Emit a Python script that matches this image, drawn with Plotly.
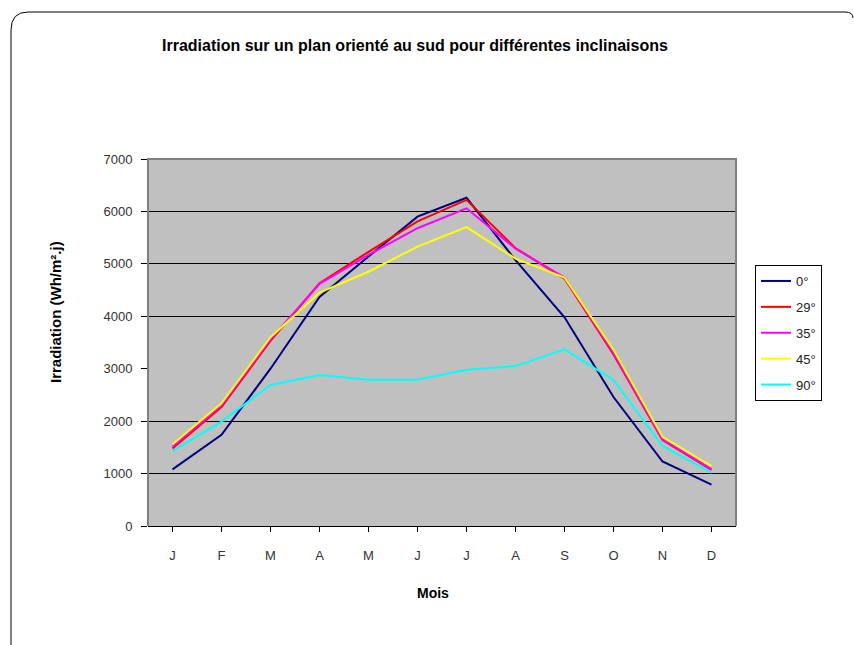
import plotly.graph_objects as go

# Monthly mean daily irradiation (Wh/m².j) on a south-facing plane
months = ["J", "F", "M", "A", "M", "J", "J", "A", "S", "O", "N", "D"]
tilt_names = ["0°", "29°", "35°", "45°", "90°"]
irr_0 = [1080, 1740, 3000, 4370, 5140, 5900, 6260, 5070, 3980, 2460, 1230, 790]
irr_29 = [1480, 2270, 3530, 4630, 5230, 5810, 6220, 5300, 4720, 3270, 1640, 1070]
irr_35 = [1510, 2300, 3560, 4620, 5170, 5680, 6060, 5290, 4740, 3300, 1655, 1085]
irr_45 = [1560, 2340, 3600, 4450, 4850, 5330, 5700, 5100, 4740, 3360, 1700, 1140]
irr_90 = [1430, 1990, 2690, 2880, 2790, 2790, 2980, 3050, 3370, 2785, 1526, 1017]
y_ticks = [0, 1000, 2000, 3000, 4000, 5000, 6000, 7000]
grid_vals = [1000, 2000, 4000, 5000, 6000]

series = [irr_0, irr_29, irr_35, irr_45, irr_90]
colors = ["#000080", "#FF0000", "#FF00FF", "#FFFF00", "#00FFFF"]

W, H = 854, 645
L, R, T, B = 148, 736, 159, 526  # plot area in pixels


def px(x):
    return (x - L) / (R - L)


def py(y):
    return (B - y) / (B - T)


FONT = "Arial, Liberation Sans, sans-serif"
x_idx = list(range(len(months)))

fig = go.Figure()
for name, vals, col in zip(tilt_names, series, colors):
    fig.add_trace(go.Scatter(
        x=x_idx, y=vals, name=name, mode="lines",
        line=dict(color=col, width=2),
        legendgroup=name,
    ))

# invisible trace carrying the partial grid axis
fig.add_trace(go.Scatter(x=[0], y=[0], yaxis="y2", mode="lines",
                         line=dict(width=0), showlegend=False, hoverinfo="skip"))

fig.update_layout(
    width=W, height=H,
    margin=dict(l=L, r=W - R, t=T, b=H - B, pad=0),
    paper_bgcolor="white",
    plot_bgcolor="#C0C0C0",
    font=dict(family=FONT, size=12, color="#222222"),
    showlegend=True,
    legend=dict(
        x=px(755), y=py(265), xanchor="left", yanchor="top",
        bgcolor="white", bordercolor="#000000", borderwidth=1,
        font=dict(family=FONT, size=13, color="#222222"),
        traceorder="grouped", tracegroupgap=6,
    ),
    xaxis=dict(
        range=[-0.5, 11.5], tickmode="array", tickvals=x_idx, ticktext=months,
        tickson="boundaries", ticks="outside", ticklen=5, tickcolor="#000000",
        showgrid=False, zeroline=False, showline=True, linecolor="#000000",
        linewidth=1, tickfont=dict(size=13, color="#333333"),
        ticklabelstandoff=12,
    ),
    yaxis=dict(
        range=[0, 7000], tickmode="array", tickvals=y_ticks,
        ticks="outside", ticklen=6, tickcolor="#000000",
        showgrid=False, zeroline=False, showline=False,
        tickfont=dict(size=13, color="#333333"),
        ticklabelstandoff=6,
    ),
    yaxis2=dict(
        range=[0, 7000], overlaying="y", tickmode="array", tickvals=grid_vals,
        showgrid=True, gridcolor="#000000", gridwidth=1,
        showticklabels=False, ticks="", zeroline=False, showline=False,
        layer="below traces",
    ),
)

# plot-area border (left, top, right) in grey
fig.add_shape(type="path", xref="paper", yref="paper",
              path="M0,0 L0,1 L1,1 L1,0",
              line=dict(color="#808080", width=2))

# rounded outer frame of the chart
fig.add_shape(type="path", xref="paper", yref="paper",
              path=(f"M{px(11)},{py(645)} L{px(11)},{py(30)} "
                    f"Q{px(11)},{py(12)} {px(28)},{py(12)} "
                    f"L{px(845)},{py(12)} Q{px(853)},{py(12)} {px(853)},{py(18)}"),
              line=dict(color="#000000", width=1))

fig.add_annotation(
    text="<b>Irradiation sur un plan orienté au sud pour différentes inclinaisons</b>",
    x=px(415), y=py(45), xref="paper", yref="paper", showarrow=False,
    xanchor="center", yanchor="middle",
    font=dict(family=FONT, size=16, color="#000000"),
)
fig.add_annotation(
    text="<b>Irradiation (Wh/m².j)</b>",
    x=px(55), y=py(312), xref="paper", yref="paper", showarrow=False,
    textangle=-90, xanchor="center", yanchor="middle",
    font=dict(family=FONT, size=15, color="#000000"),
)
fig.add_annotation(
    text="<b>Mois</b>",
    x=px(433), y=py(593), xref="paper", yref="paper", showarrow=False,
    xanchor="center", yanchor="middle",
    font=dict(family=FONT, size=14, color="#000000"),
)

fig.write_html("out.html")
